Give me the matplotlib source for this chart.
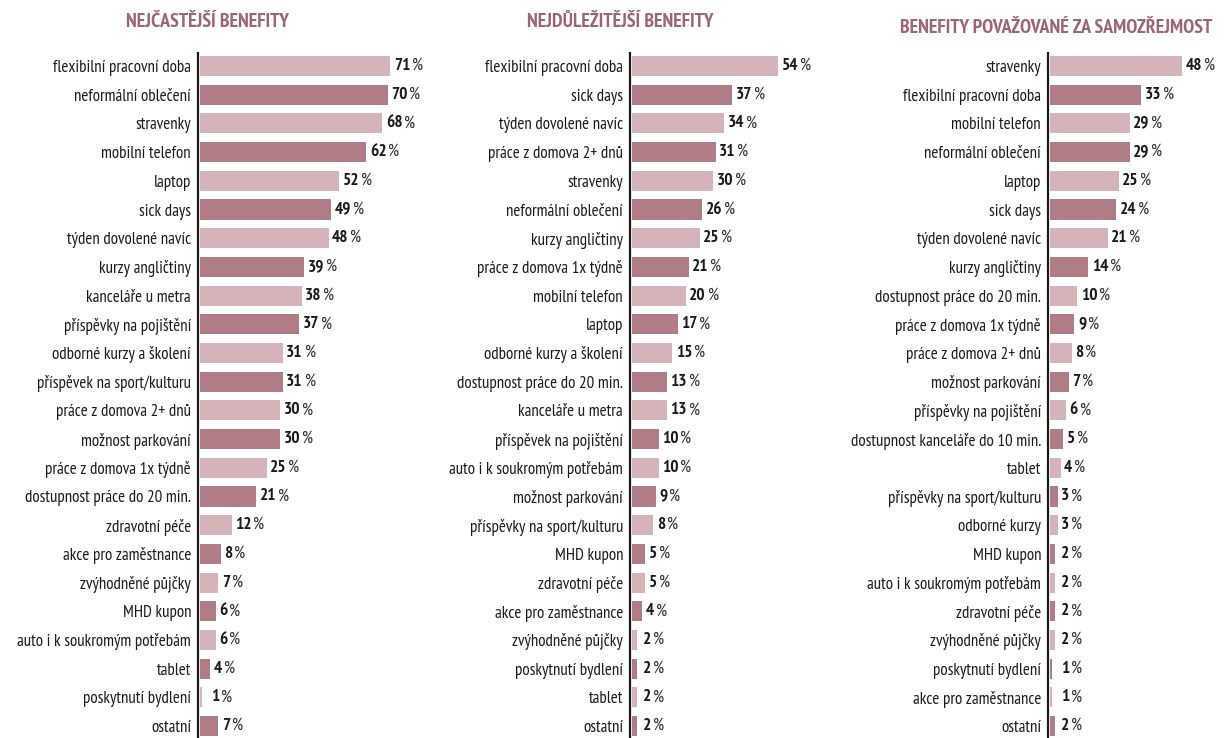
import matplotlib
matplotlib.use("Agg")
import matplotlib.pyplot as plt
from matplotlib import font_manager

# ---------------- data ----------------
title1 = "NEJČASTĚJŠÍ BENEFITY"
labels1 = ["flexibilní pracovní doba", "neformální oblečení", "stravenky", "mobilní telefon",
           "laptop", "sick days", "týden dovolené navíc", "kurzy angličtiny",
           "kanceláře u metra", "příspěvky na pojištění", "odborné kurzy a školení",
           "příspěvek na sport/kulturu", "práce z domova 2+ dnů", "možnost parkování",
           "práce z domova 1x týdně", "dostupnost práce do 20 min.", "zdravotní péče",
           "akce pro zaměstnance", "zvýhodněné půjčky", "MHD kupon",
           "auto i k soukromým potřebám", "tablet", "poskytnutí bydlení", "ostatní"]
values1 = [71, 70, 68, 62, 52, 49, 48, 39, 38, 37, 31, 31, 30, 30, 25, 21, 12, 8, 7, 6, 6, 4, 1, 7]

title2 = "NEJDŮLEŽITĚJŠÍ BENEFITY"
labels2 = ["flexibilní pracovní doba", "sick days", "týden dovolené navíc", "práce z domova 2+ dnů",
           "stravenky", "neformální oblečení", "kurzy angličtiny", "práce z domova 1x týdně",
           "mobilní telefon", "laptop", "odborné kurzy a školení", "dostupnost práce do 20 min.",
           "kanceláře u metra", "příspěvek na pojištění", "auto i k soukromým potřebám",
           "možnost parkování", "příspěvky na sport/kulturu", "MHD kupon", "zdravotní péče",
           "akce pro zaměstnance", "zvýhodněné půjčky", "poskytnutí bydlení", "tablet", "ostatní"]
values2 = [54, 37, 34, 31, 30, 26, 25, 21, 20, 17, 15, 13, 13, 10, 10, 9, 8, 5, 5, 4, 2, 2, 2, 2]

title3 = "BENEFITY POVAŽOVANÉ ZA SAMOZŘEJMOST"
labels3 = ["stravenky", "flexibilní pracovní doba", "mobilní telefon", "neformální oblečení",
           "laptop", "sick days", "týden dovolené navíc", "kurzy angličtiny",
           "dostupnost práce do 20 min.", "práce z domova 1x týdně", "práce z domova 2+ dnů",
           "možnost parkování", "příspěvky na pojištění", "dostupnost kanceláře do 10 min.",
           "tablet", "příspěvky na sport/kulturu", "odborné kurzy", "MHD kupon",
           "auto i k soukromým potřebám", "zdravotní péče", "zvýhodněné půjčky",
           "poskytnutí bydlení", "akce pro zaměstnance", "ostatní"]
values3 = [48, 33, 29, 29, 25, 24, 21, 14, 10, 9, 8, 7, 6, 5, 4, 3, 3, 2, 2, 2, 2, 1, 1, 2]

# ---------------- style ----------------
installed = {f.name for f in font_manager.fontManager.ttflist}
cands = ["PT Sans Narrow", "Fira Sans Condensed", "Open Sans Condensed", "Encode Sans Condensed",
         "Roboto Condensed", "Archivo Narrow", "Asap Condensed", "Barlow Semi Condensed",
         "Liberation Sans Narrow", "DejaVu Sans"]
NARROW = next(c for c in cands if c in installed)
LIGHT = "#d4b4b9"
DARK = "#b07d87"
TITLE_C = "#9b6672"
INK = "#1a1a1a"

W, H = 1230, 738
fig = plt.figure(figsize=(W / 100, H / 100), dpi=100)
renderer = fig.canvas.get_renderer()


def fit_size(text, target_px, weight="normal"):
    t = fig.text(0, 0, text, fontsize=10, family=NARROW, weight=weight)
    w = t.get_window_extent(renderer).width
    t.remove()
    return 10 * target_px / w


LABEL_FS = fit_size("flexibilní pracovní doba", 138)
TITLE_FS = fit_size("BENEFITY POVAŽOVANÉ ZA SAMOZŘEJMOST", 313, "bold")
NUM_FS = LABEL_FS * 1.02

ROW = 28.7           # px per row
TOP_PX = 66 - ROW / 2

panels = [
    (title1, labels1, values1, 198, 2.69, 232, 207, 22),
    (title2, labels2, values2, 630, 2.72, 200, 620, 22),
    (title3, labels3, values3, 1048, 2.77, 180, 1056, 28),
]

for title, labels, values, ax_x, scale, width_px, tx, ty in panels:
    n = len(values)
    bottom_px = H
    ax = fig.add_axes([ax_x / W, 1 - bottom_px / H, width_px / W, (bottom_px - TOP_PX) / H])
    ymax = -0.5 + (bottom_px - TOP_PX) / ROW
    ax.set_ylim(ymax, -0.5)
    ax.set_xlim(0, width_px / scale)
    ys = list(range(n))
    colors = [LIGHT if i % 2 == 0 else DARK for i in range(n)]
    gap = 1.5 / scale
    ax.barh(ys, values, left=gap, height=0.7, color=colors, edgecolor="none")
    for s in ["top", "right", "bottom", "left"]:
        ax.spines[s].set_visible(False)
    ax.plot([0, 0], [-0.5, n - 0.5], color=INK, lw=1.6, clip_on=False,
            solid_capstyle="butt")
    ax.set_xticks([])
    ax.set_yticks(ys)
    ax.set_yticklabels(labels, fontsize=LABEL_FS, family=NARROW, color=INK)
    ax.tick_params(axis="y", length=0, pad=5)
    for y, v in zip(ys, values):
        xpos = max(v, 3) + gap + 3.5 / scale
        t = ax.text(xpos, y, f"{v}", fontsize=NUM_FS, family=NARROW, weight="bold",
                    color=INK, va="center", ha="left")
        ax.annotate("%", xy=(1, 0.5), xycoords=t, xytext=(1.2, 0),
                    textcoords="offset points", fontsize=NUM_FS, family=NARROW,
                    color="#2a2a2a", va="center", ha="left")
    fig.text(tx / W, 1 - ty / H, title, fontsize=TITLE_FS, family=NARROW, weight="bold",
             color=TITLE_C, ha="center", va="center")

fig.savefig("out.png", dpi=100, facecolor="white")
